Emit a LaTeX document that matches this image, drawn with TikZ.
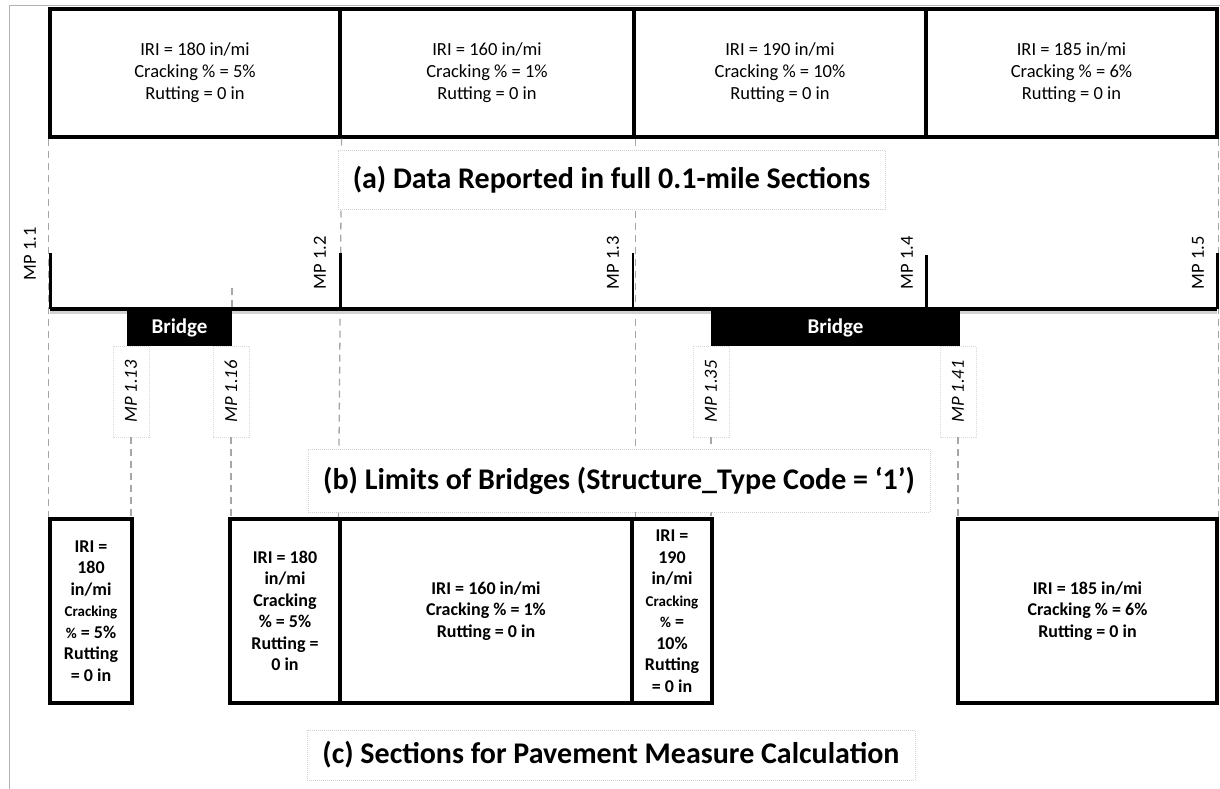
\documentclass[tikz,border=0pt]{standalone}
\usepackage{fontspec}
\setmainfont{Carlito}
\newcommand{\smallf}{\fontsize{15}{21.5}\selectfont}
\begin{document}
\begin{tikzpicture}[x=1pt,y=-1pt,
  topbox/.style={draw=black, line width=3.2pt, minimum height=128pt, inner sep=0pt, align=center,
    font=\fontsize{18.5}{22}\selectfont},
  botbox/.style={draw=black, line width=3.2pt, minimum height=184pt, inner sep=0pt, align=center,
    font=\bfseries\fontsize{18}{21.5}\selectfont},
  caption/.style={draw=gray!35, line width=0.6pt, dash pattern=on 1pt off 1pt, fill=white,
    inner sep=0pt, font=\bfseries\fontsize{30}{34}\selectfont},
  guide/.style={draw=gray!70, line width=1.3pt, dash pattern=on 7pt off 5pt},
  road/.style={draw=black, line width=3.4pt},
  ticks/.style={draw=black, line width=3pt},
  mplabel/.style={rotate=90, inner sep=0pt, font=\fontsize{18.5}{20}\selectfont},
  mpbox/.style={rotate=90, draw=gray!30, line width=0.6pt, dash pattern=on 1pt off 1pt, fill=white,
    minimum width=91pt, minimum height=36pt, inner sep=0pt, font=\itshape\fontsize{18.5}{20}\selectfont},
  bridgebox/.style={fill=black, text=white, minimum height=37pt, inner sep=0pt,
    font=\bfseries\fontsize{21}{24}\selectfont}
]
\useasboundingbox (0,0) rectangle (1220,789);
% outer frame
\draw[gray!60, line width=1pt] (9,789) -- (9,6) -- (1220,6);

% top boxes
\node[topbox, minimum width=290pt] (t1) at (195,73) {IRI = 180 in/mi\\Cracking \% = 5\%\\Rutting = 0 in};
\node[topbox, minimum width=294pt] (t2) at (487,73) {IRI = 160 in/mi\\Cracking \% = 1\%\\Rutting = 0 in};
\node[topbox, minimum width=292pt] (t3) at (780,73) {IRI = 190 in/mi\\Cracking \% = 10\%\\Rutting = 0 in};
\node[topbox, minimum width=291pt] (t4) at (1071.5,73) {IRI = 185 in/mi\\Cracking \% = 6\%\\Rutting = 0 in};

% road coordinates
\coordinate (mp11) at (50,309);
\coordinate (mp12) at (340,309);
\coordinate (mp13) at (633,309);
\coordinate (mp14) at (926,309);
\coordinate (mp15) at (1217,309);
\coordinate (mp116top) at (232,288);

% bottom boxes
\node[botbox, minimum width=82pt] (b1) at (91,611) {IRI =\\180\\in/mi\\{\smallf Cracking}\\{\smallf\%} = 5\%\\Rutting\\= 0 in};
\node[botbox, minimum width=110pt] (b2) at (285,611) {IRI = 180\\in/mi\\Cracking\\\% = 5\%\\Rutting =\\0 in};
\node[botbox, minimum width=292pt] (b3) at (486,611) {IRI = 160 in/mi\\Cracking \% = 1\%\\Rutting = 0 in};
\node[botbox, minimum width=80pt] (b4) at (672,611) {IRI =\\190\\in/mi\\{\smallf Cracking}\\{\smallf\%} =\\10\%\\Rutting\\= 0 in};
\node[botbox, minimum width=259pt] (b5) at (1087.5,611) {IRI = 185 in/mi\\Cracking \% = 6\%\\Rutting = 0 in};

% guide lines
\draw[guide] (t1.south west) -- (b1.north west);
\draw[guide] (t1.south east) -- (b3.north west);
\draw[guide] (t2.south east) -- (t2.south east |- b4.north);
\draw[guide] (t4.south east) -- (b5.north east);
\draw[guide] (mp116top) -- (mp116top |- mp11);

% redraw box edges over guides
\node[botbox, minimum width=82pt] at (b1) {};
\node[botbox, minimum width=110pt] at (b2) {};
\node[botbox, minimum width=292pt] at (b3) {};
\node[botbox, minimum width=80pt] at (b4) {};
\node[botbox, minimum width=259pt] at (b5) {};

% road with shadow
\draw[gray!35, line width=3pt] ([yshift=-3.5pt]mp11) -- ([yshift=-3.5pt]mp15);
\draw[road] (mp11) -- (mp15);
\draw[ticks] (mp11) -- ++(0,-56);
\draw[ticks] (mp12) -- ++(0,-56);
\draw[ticks, line width=2.4pt] (mp13) -- ++(0,-56);
\draw[ticks] (mp14) -- ++(0,-54);
\draw[ticks] (mp15) -- ++(0,-56);

% MP labels
\node[mplabel] (l11) at (30,254) {MP 1.1};
\node[mplabel] (l12) at (320,263) {MP 1.2};
\node[mplabel] (l13) at (613,263) {MP 1.3};
\node[mplabel] (l14) at (907,263) {MP 1.4};
\node[mplabel] (l15) at (1198,263) {MP 1.5};

% bridges
\node[bridgebox, minimum width=105pt] (br1) at (179.5,327.5) {Bridge};
\node[bridgebox, minimum width=249pt] (br2) at (835.5,327.5) {Bridge};

% bridge limit labels
\node[mpbox] (m113) at (131,391.5) {MP 1.13};
\node[mpbox] (m116) at (231,391.5) {MP 1.16};
\node[mpbox] (m135) at (711,391.5) {MP 1.35};
\node[mpbox] (m141) at (958,391.5) {MP 1.41};
\draw[guide] (m113.west) -- (m113.west |- b1.north);
\draw[guide] (m116.west) -- (m116.west |- b2.north);
\draw[guide] (m135.west) -- (m135.west |- b4.north);
\draw[guide] (m141.west) -- (m141.west |- b5.north);

% captions
\node[caption, minimum width=547pt, minimum height=59pt] (ca) at (611.5,179.5) {(a) Data Reported in full 0.1-mile Sections};
\node[caption, minimum width=622pt, minimum height=63pt] (cb) at (619,480.5) {(b) Limits of Bridges (Structure\_Type Code = ‘1’)};
\node[caption, minimum width=608pt, minimum height=50pt] (cc) at (611,755) {(c) Sections for Pavement Measure Calculation};
\end{tikzpicture}
\end{document}
